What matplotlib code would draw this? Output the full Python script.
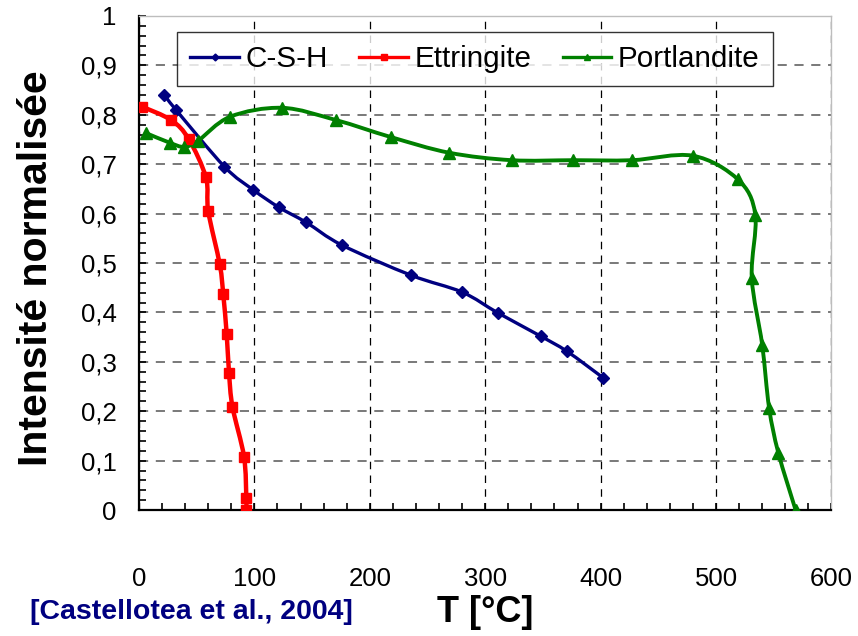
import numpy as np
import matplotlib
matplotlib.use("Agg")
import matplotlib.pyplot as plt
from matplotlib.path import Path
from matplotlib.patches import PathPatch
from matplotlib.lines import Line2D
from matplotlib.ticker import MultipleLocator, FuncFormatter

plt.rcParams['font.family'] = ['Liberation Sans', 'DejaVu Sans']

# Temperature [°C] and normalised intensity for each phase
csh_T = [22, 32, 74, 99, 121, 145, 176, 236, 280, 311, 348, 371, 402]
csh_I = [0.840, 0.810, 0.695, 0.648, 0.613, 0.582, 0.536, 0.475, 0.441,
         0.399, 0.352, 0.321, 0.268]

ett_T = [3, 28, 43, 58, 60, 70, 73, 76, 78, 81, 91, 93, 93]
ett_I = [0.816, 0.789, 0.751, 0.673, 0.605, 0.497, 0.437, 0.356, 0.278,
         0.209, 0.108, 0.024, 0.0]

port_T = [6, 27, 39, 51, 79, 124, 171, 218, 269, 323, 376, 427, 480, 519,
          534, 531, 540, 546, 554, 569]
port_I = [0.763, 0.743, 0.735, 0.747, 0.796, 0.814, 0.789, 0.755, 0.723,
          0.708, 0.708, 0.708, 0.717, 0.669, 0.598, 0.470, 0.335, 0.207,
          0.116, 0.0]

series = [
    ("C-S-H", csh_T, csh_I, "#000080", "D", 6, 2.4, 3.5),
    ("Ettringite", ett_T, ett_I, "#FF0000", "s", 6.5, 3.2, 4),
    ("Portlandite", port_T, port_I, "#008000", "^", 8, 2.8, 5),
]

xticks_step = 100
yticks_step = 0.1


def smooth_path(x, y):
    """Cubic Bezier path through the points (Catmull-Rom tangents)."""
    p = np.column_stack([x, y]).astype(float)
    n = len(p)
    verts = [p[0]]
    codes = [Path.MOVETO]
    for i in range(n - 1):
        p0 = p[i - 1] if i > 0 else p[i]
        p1 = p[i]
        p2 = p[i + 1]
        p3 = p[i + 2] if i + 2 < n else p[i + 1]
        c1 = p1 + (p2 - p0) / 6.0
        c2 = p2 - (p3 - p1) / 6.0
        verts += [c1, c2, p2]
        codes += [Path.CURVE4] * 3
    return Path(verts, codes)


fig = plt.figure(figsize=(8.58, 6.36), dpi=100)
ax = fig.add_axes([0.162, 0.198, 0.807, 0.777])

handles = []
for name, T, I, color, mk, ms, lw, legms in series:
    patch = PathPatch(smooth_path(T, I), facecolor="none", edgecolor=color,
                      lw=lw, capstyle="round", joinstyle="round", zorder=3)
    ax.add_patch(patch)
    ax.plot(T, I, linestyle="none", marker=mk, ms=ms, color=color,
            markeredgecolor=color, zorder=4)
    handles.append(Line2D([], [], color=color, lw=2.4, marker=mk,
                          ms=legms, label=name))

ax.set_xlim(0, 600)
ax.set_ylim(0, 1)

ax.xaxis.set_major_locator(MultipleLocator(xticks_step))
ax.xaxis.set_minor_locator(MultipleLocator(20))
ax.yaxis.set_major_locator(MultipleLocator(yticks_step))
ax.yaxis.set_minor_locator(MultipleLocator(0.02))


def comma_fmt(v, pos):
    s = f"{v:.1f}".rstrip("0").rstrip(".")
    return s.replace(".", ",")


ax.yaxis.set_major_formatter(FuncFormatter(comma_fmt))
ax.xaxis.set_major_formatter(FuncFormatter(lambda v, p: f"{v:.0f}"))

ax.tick_params(which="both", direction="in", length=5, width=1.2,
               color="black", labelsize=18.5)
ax.tick_params(axis="x", which="both", pad=41, top=False)
ax.tick_params(axis="y", which="both", pad=16, right=False)

for side in ("left", "bottom"):
    ax.spines[side].set_color("black")
    ax.spines[side].set_linewidth(1.6)
for side in ("top", "right"):
    ax.spines[side].set_color("#BDBDBD")
    ax.spines[side].set_linewidth(1.0)

ax.xaxis.grid(True, which="major", color="black", linestyle=(0, (6, 5)),
              lw=0.9)
ax.yaxis.grid(True, which="major", color="#555555", linestyle=(0, (6, 5)),
              lw=1.1)
ax.set_axisbelow(True)

leg = ax.legend(handles=handles, loc="upper left",
                bbox_to_anchor=(0.055, 0.968), ncol=3, fontsize=21.3,
                frameon=True, fancybox=False, handlelength=1.65,
                handletextpad=0.22, columnspacing=1.05, borderpad=0.45,
                borderaxespad=0)
leg.get_frame().set_edgecolor("black")
leg.get_frame().set_linewidth(1.0)
leg.set_zorder(5)

ax.set_xlabel("T [°C]", fontsize=26, fontweight="bold")
ax.xaxis.set_label_coords(0.5, -0.172)
ax.set_ylabel("Intensité normalisée", fontsize=29.5, fontweight="bold")
ax.yaxis.set_label_coords(-0.122, 0.49)

fig.text(30 / 858, 1 - 612 / 636, "[Castellotea et al., 2004]",
         fontsize=20.5, fontweight="bold", color="#000080",
         ha="left", va="center")

fig.savefig("out.png", dpi=100, facecolor="white")
